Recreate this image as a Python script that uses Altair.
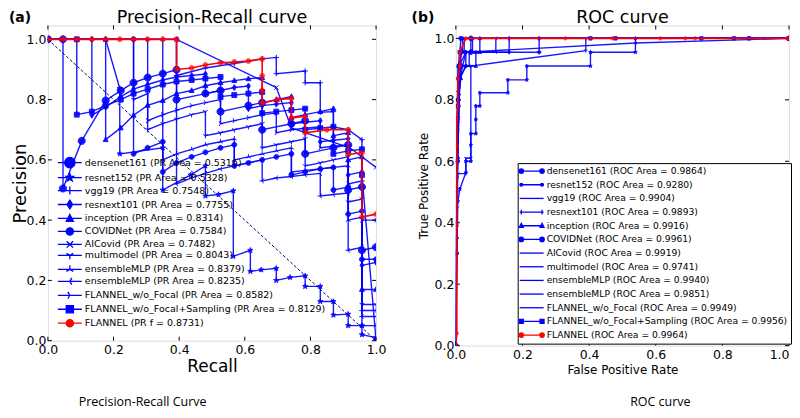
import altair as alt
import pandas as pd

BLUE = "#0000ff"
RED = "#ff0000"

# ---------------- Precision-Recall data ----------------
pr_labels = [
    "densenet161 (PR Area = 0.5316)",
    "resnet152 (PR Area = 0.5328)",
    "vgg19 (PR Area = 0.7548)",
    "resnext101 (PR Area = 0.7755)",
    "inception (PR Area = 0.8314)",
    "COVIDNet (PR Area = 0.7584)",
    "AICovid (PR Area = 0.7482)",
    "multimodel (PR Area = 0.8043)",
    "ensembleMLP (PR Area = 0.8379)",
    "ensembleMLP (PR Area = 0.8235)",
    "FLANNEL_w/o_Focal (PR Area = 0.8582)",
    "FLANNEL_w/o_Focal+Sampling (PR Area = 0.8129)",
    "FLANNEL (PR f = 0.8731)",
]

pr_densenet161_x = [0.0, 0.046, 0.046, 0.103, 0.176, 0.222, 0.261, 0.304, 0.35, 0.392, 0.392, 0.48, 0.526, 0.526, 0.611, 0.653, 0.653, 0.742, 0.784, 0.784, 0.87, 0.915, 0.915, 0.957, 0.957, 1.0]
pr_densenet161_y = [1.0, 1.0, 0.505, 0.663, 0.797, 0.83, 0.856, 0.873, 0.886, 0.899, 0.80, 0.82, 0.83, 0.76, 0.78, 0.79, 0.70, 0.72, 0.73, 0.62, 0.64, 0.65, 0.50, 0.51, 0.30, 0.31]

pr_resnet152_x = [0.0, 0.176, 0.219, 0.219, 0.35, 0.35, 0.435, 0.48, 0.48, 0.52, 0.565, 0.565, 0.617, 0.617, 0.65, 0.696, 0.696, 0.738, 0.784, 0.784, 0.83, 0.83, 0.87, 0.87, 0.915, 0.915, 0.957, 0.957, 1.0]
pr_resnet152_y = [1.0, 1.0, 0.837, 0.62, 0.64, 0.50, 0.55, 0.58, 0.48, 0.485, 0.497, 0.28, 0.30, 0.23, 0.235, 0.24, 0.20, 0.21, 0.215, 0.18, 0.18, 0.13, 0.13, 0.085, 0.088, 0.05, 0.05, 0.02, 0.01]

pr_vgg19_x = [0.0, 0.392, 0.392, 0.48, 0.568, 0.653, 0.696, 0.696, 0.784, 0.784, 0.83, 0.83, 0.87, 0.87, 0.915, 0.957, 0.957, 1.0]
pr_vgg19_y = [1.0, 1.0, 0.88, 0.905, 0.92, 0.935, 0.94, 0.886, 0.895, 0.856, 0.856, 0.758, 0.76, 0.709, 0.70, 0.667, 0.10, 0.10]

pr_resnext101_x = [0.0, 0.134, 0.134, 0.176, 0.222, 0.261, 0.304, 0.35, 0.392, 0.438, 0.48, 0.48, 0.526, 0.568, 0.611, 0.611, 0.653, 0.696, 0.742, 0.742, 0.784, 0.83, 0.83, 0.87, 0.915, 0.915, 0.957, 0.957, 1.0]
pr_resnext101_y = [1.0, 1.0, 0.748, 0.775, 0.81, 0.835, 0.85, 0.865, 0.875, 0.88, 0.885, 0.82, 0.83, 0.84, 0.845, 0.77, 0.78, 0.785, 0.79, 0.72, 0.725, 0.73, 0.66, 0.665, 0.67, 0.55, 0.56, 0.25, 0.26]

pr_inception_x = [0.0, 0.176, 0.176, 0.222, 0.261, 0.304, 0.35, 0.392, 0.438, 0.48, 0.526, 0.568, 0.611, 0.653, 0.653, 0.696, 0.742, 0.742, 0.784, 0.83, 0.87, 0.87, 0.915, 0.915, 0.957, 0.957, 1.0]
pr_inception_y = [1.0, 1.0, 0.667, 0.706, 0.748, 0.781, 0.797, 0.82, 0.83, 0.846, 0.856, 0.863, 0.869, 0.873, 0.79, 0.80, 0.81, 0.74, 0.75, 0.76, 0.77, 0.68, 0.69, 0.60, 0.61, 0.17, 0.17]

pr_covidnet_x = [0.0, 0.261, 0.261, 0.304, 0.35, 0.35, 0.392, 0.438, 0.48, 0.526, 0.568, 0.568, 0.611, 0.653, 0.696, 0.742, 0.742, 0.784, 0.83, 0.87, 0.87, 0.915, 0.915, 0.957, 0.957, 1.0]
pr_covidnet_y = [1.0, 1.0, 0.62, 0.64, 0.66, 0.56, 0.59, 0.61, 0.625, 0.64, 0.65, 0.58, 0.59, 0.60, 0.61, 0.62, 0.55, 0.56, 0.57, 0.575, 0.50, 0.51, 0.42, 0.43, 0.27, 0.27]

pr_aicovid_x = [0.0, 0.392, 0.696, 0.742, 0.92, 1.0]
pr_aicovid_y = [1.0, 1.0, 0.84, 0.706, 0.64, 0.575]

pr_multimodel_x = [0.0, 0.261, 0.261, 0.304, 0.304, 0.35, 0.392, 0.438, 0.48, 0.48, 0.526, 0.568, 0.611, 0.653, 0.653, 0.696, 0.742, 0.784, 0.784, 0.83, 0.87, 0.915, 0.915, 0.957, 0.957, 1.0]
pr_multimodel_y = [1.0, 1.0, 0.80, 0.82, 0.70, 0.72, 0.735, 0.75, 0.76, 0.68, 0.69, 0.70, 0.71, 0.72, 0.64, 0.65, 0.66, 0.67, 0.58, 0.59, 0.60, 0.61, 0.46, 0.47, 0.12, 0.12]

pr_ensemble1_x = [0.0, 0.35, 0.35, 0.392, 0.438, 0.48, 0.526, 0.568, 0.568, 0.611, 0.653, 0.696, 0.742, 0.742, 0.784, 0.83, 0.87, 0.915, 0.915, 0.957, 0.957, 1.0]
pr_ensemble1_y = [1.0, 1.0, 0.60, 0.62, 0.635, 0.65, 0.66, 0.67, 0.60, 0.61, 0.62, 0.63, 0.64, 0.56, 0.565, 0.57, 0.575, 0.58, 0.40, 0.41, 0.05, 0.05]

pr_ensemble2_x = [0.0, 0.392, 0.392, 0.438, 0.48, 0.526, 0.568, 0.611, 0.653, 0.653, 0.696, 0.742, 0.784, 0.83, 0.83, 0.87, 0.915, 0.915, 0.957, 0.957, 1.0]
pr_ensemble2_y = [1.0, 1.0, 0.52, 0.54, 0.555, 0.57, 0.58, 0.59, 0.60, 0.53, 0.54, 0.545, 0.55, 0.555, 0.48, 0.485, 0.49, 0.30, 0.31, 0.08, 0.08]

pr_wofocal_x = [0.0, 0.304, 0.304, 0.35, 0.392, 0.438, 0.48, 0.526, 0.526, 0.568, 0.611, 0.653, 0.696, 0.696, 0.742, 0.784, 0.83, 0.83, 0.87, 0.915, 0.915, 0.957, 0.957, 1.0]
pr_wofocal_y = [1.0, 1.0, 0.73, 0.75, 0.765, 0.78, 0.79, 0.80, 0.72, 0.73, 0.74, 0.75, 0.755, 0.69, 0.70, 0.705, 0.71, 0.64, 0.645, 0.65, 0.52, 0.53, 0.40, 0.40]

pr_sampling_x = [0.0, 0.088, 0.088, 0.134, 0.176, 0.222, 0.261, 0.304, 0.35, 0.392, 0.438, 0.48, 0.526, 0.526, 0.568, 0.611, 0.653, 0.653, 0.696, 0.742, 0.784, 0.784, 0.83, 0.87, 0.87, 0.915, 0.957, 0.957, 1.0]
pr_sampling_y = [1.0, 1.0, 0.75, 0.76, 0.78, 0.80, 0.82, 0.835, 0.85, 0.86, 0.865, 0.87, 0.875, 0.81, 0.815, 0.82, 0.825, 0.755, 0.76, 0.765, 0.77, 0.70, 0.705, 0.71, 0.62, 0.63, 0.635, 0.55, 0.0]

pr_flannel_x = [0.0, 0.046, 0.088, 0.134, 0.176, 0.219, 0.261, 0.304, 0.35, 0.392, 0.392, 0.438, 0.48, 0.526, 0.568, 0.611, 0.653, 0.653, 0.653, 0.653, 0.70, 0.742, 0.742, 0.784, 0.784, 0.85, 0.915, 0.915, 0.957, 0.957, 1.0]
pr_flannel_y = [1.0, 1.0, 1.0, 1.0, 1.0, 1.0, 1.0, 1.0, 1.0, 1.0, 0.90, 0.905, 0.915, 0.922, 0.925, 0.928, 0.935, 0.879, 0.83, 0.788, 0.80, 0.804, 0.739, 0.745, 0.69, 0.70, 0.70, 0.618, 0.624, 0.41, 0.42]

pr_xs = [pr_densenet161_x, pr_resnet152_x, pr_vgg19_x, pr_resnext101_x, pr_inception_x, pr_covidnet_x,
         pr_aicovid_x, pr_multimodel_x, pr_ensemble1_x, pr_ensemble2_x, pr_wofocal_x, pr_sampling_x, pr_flannel_x]
pr_ys = [pr_densenet161_y, pr_resnet152_y, pr_vgg19_y, pr_resnext101_y, pr_inception_y, pr_covidnet_y,
         pr_aicovid_y, pr_multimodel_y, pr_ensemble1_y, pr_ensemble2_y, pr_wofocal_y, pr_sampling_y, pr_flannel_y]

chance_x = [0.0, 1.0]
chance_y = [1.0, 0.0]

# ---------------- ROC data ----------------
roc_labels = [
    "densenet161 (ROC Area = 0.9864)",
    "resnet152 (ROC Area = 0.9280)",
    "vgg19 (ROC Area = 0.9904)",
    "resnext101 (ROC Area = 0.9893)",
    "inception (ROC Area = 0.9916)",
    "COVIDNet (ROC Area = 0.9961)",
    "AICovid (ROC Area = 0.9919)",
    "multimodel (ROC Area = 0.9741)",
    "ensembleMLP (ROC Area = 0.9940)",
    "ensembleMLP (ROC Area = 0.9851)",
    "FLANNEL_w/o_Focal (ROC Area = 0.9949)",
    "FLANNEL_w/o_Focal+Sampling (ROC Area = 0.9956)",
    "FLANNEL (ROC Area = 0.9964)",
]

roc_densenet161_x = [0.0, 0.0, 0.003, 0.006, 0.01, 0.015, 0.015, 0.045, 0.045, 1.0]
roc_densenet161_y = [0.0, 0.30, 0.60, 0.78, 0.87, 0.91, 0.955, 0.955, 1.0, 1.0]
roc_resnet152_x = [0.0, 0.003, 0.006, 0.012, 0.03, 0.03, 0.045, 0.045, 0.045, 0.06, 0.06, 0.06, 0.072, 0.072, 0.156, 0.156, 0.213, 0.213, 0.404, 0.404, 0.539, 0.539, 1.0]
roc_resnet152_y = [0.0, 0.30, 0.47, 0.51, 0.563, 0.60, 0.60, 0.653, 0.69, 0.69, 0.736, 0.78, 0.78, 0.823, 0.823, 0.865, 0.865, 0.91, 0.91, 0.955, 0.955, 1.0, 1.0]
roc_vgg19_x = [0.0, 0.003, 0.006, 0.01, 0.03, 0.54, 1.0]
roc_vgg19_y = [0.0, 0.50, 0.80, 0.91, 0.955, 0.985, 1.0]
roc_resnext101_x = [0.0, 0.003, 0.006, 0.012, 0.03, 0.16, 0.16, 1.0]
roc_resnext101_y = [0.0, 0.45, 0.73, 0.87, 0.955, 0.955, 1.0, 1.0]
roc_inception_x = [0.0, 0.003, 0.009, 0.015, 0.015, 0.06, 0.06, 0.072, 0.072, 1.0]
roc_inception_y = [0.0, 0.55, 0.82, 0.87, 0.91, 0.91, 0.955, 0.955, 1.0, 1.0]
roc_covidnet_x = [0.0, 0.003, 0.006, 0.009, 0.012, 0.03, 0.03, 0.25, 0.25, 1.0]
roc_covidnet_y = [0.0, 0.35, 0.61, 0.80, 0.87, 0.91, 0.955, 0.955, 1.0, 1.0]
roc_aicovid_x = [0.0, 0.003, 0.006, 0.012, 0.012, 0.05, 0.05, 1.0]
roc_aicovid_y = [0.0, 0.40, 0.70, 0.87, 0.955, 0.955, 1.0, 1.0]
roc_multimodel_x = [0.0, 0.003, 0.006, 0.03, 0.03, 0.045, 0.045, 0.39, 0.39, 1.0]
roc_multimodel_y = [0.0, 0.50, 0.56, 0.56, 0.61, 0.61, 0.91, 0.96, 1.0, 1.0]
roc_ensemble1_x = [0.0, 0.003, 0.006, 0.006, 0.02, 0.02, 1.0]
roc_ensemble1_y = [0.0, 0.60, 0.83, 0.91, 0.96, 1.0, 1.0]
roc_ensemble2_x = [0.0, 0.003, 0.009, 0.012, 0.03, 0.04, 0.04, 0.12, 0.12, 1.0]
roc_ensemble2_y = [0.0, 0.52, 0.74, 0.87, 0.91, 0.91, 0.955, 0.955, 1.0, 1.0]
roc_wofocal_x = [0.0, 0.003, 0.006, 0.01, 0.01, 0.025, 0.025, 1.0]
roc_wofocal_y = [0.0, 0.70, 0.87, 0.91, 0.955, 0.955, 1.0, 1.0]
roc_sampling_x = [0.0, 0.003, 0.006, 0.009, 0.012, 0.015, 0.404, 0.479, 0.737, 0.835, 0.88, 1.0]
roc_sampling_y = [0.0, 0.60, 0.80, 0.91, 0.955, 1.0, 1.0, 1.0, 1.0, 1.0, 1.0, 1.0]
roc_flannel_x = [0.0, 0.003, 0.003, 0.003, 0.003, 0.006, 0.006, 0.012, 0.012, 0.03, 0.329, 0.47, 0.614, 0.689, 0.718, 0.994, 1.0]
roc_flannel_y = [0.0, 0.04, 0.39, 0.65, 0.736, 0.78, 0.868, 0.91, 0.955, 1.0, 1.0, 1.0, 1.0, 1.0, 1.0, 1.0, 1.0]

roc_xs = [roc_densenet161_x, roc_resnet152_x, roc_vgg19_x, roc_resnext101_x, roc_inception_x, roc_covidnet_x,
          roc_aicovid_x, roc_multimodel_x, roc_ensemble1_x, roc_ensemble2_x, roc_wofocal_x, roc_sampling_x, roc_flannel_x]
roc_ys = [roc_densenet161_y, roc_resnet152_y, roc_vgg19_y, roc_resnext101_y, roc_inception_y, roc_covidnet_y,
          roc_aicovid_y, roc_multimodel_y, roc_ensemble1_y, roc_ensemble2_y, roc_wofocal_y, roc_sampling_y, roc_flannel_y]

tick_values = [0.0, 0.2, 0.4, 0.6, 0.8, 1.0]

# ---------------- marker shapes (style) ----------------
def circ(cx, r):
    return f"M{cx + r},0A{r},{r} 0 1,1 {cx - r},0A{r},{r} 0 1,1 {cx + r},0Z"

MARKERS = [
    circ(0, 1.3),
    "M0,-1L0.235,-0.324L0.951,-0.309L0.38,0.124L0.588,0.809L0,0.4L-0.588,0.809L-0.38,0.124L-0.951,-0.309L-0.235,-0.324Z",
    "M-1,0H1M0,-1V1",
    "M0,-1.1L0.7,0L0,1.1L-0.7,0Z",
    "M0,-1L0.9,0.7L-0.9,0.7Z",
    circ(0, 0.9),
    "M-0.8,-0.8L0.8,0.8M-0.8,0.8L0.8,-0.8",
    "M0,0V1M0,0L-0.87,-0.5M0,0L0.87,-0.5",
    "M0,0V-1M0,0L-0.87,0.5M0,0L0.87,0.5",
    "M0,0H-1M0,0L0.5,-0.87M0,0L0.5,0.87",
    "M0,0H1M0,0L-0.5,-0.87M0,0L-0.5,0.87",
    "M-0.9,-0.9H0.9V0.9H-0.9Z",
    circ(0, 0.9),
]

PR_LEGEND = ["M-3,0H3" + m for m in MARKERS]


def ends(kind):
    if kind == "circle":
        return circ(-2.6, 0.55) + circ(2.6, 0.55)
    if kind == "square":
        return "M-3.1,-0.5H-2.1V0.5H-3.1ZM2.1,-0.5H3.1V0.5H2.1Z"
    if kind == "plus":
        return "M-2.6,-0.6V0.6M2.6,-0.6V0.6"
    if kind == "tri":
        return "M-2.6,-0.6L-2.1,0.4L-3.1,0.4ZM2.6,-0.6L3.1,0.4L2.1,0.4Z"
    if kind == "star":
        return circ(-2.6, 0.35) + circ(2.6, 0.35)
    return ""


ROC_KINDS = ["circle", "star", "", "plus", "tri", "circle", "", "", "", "", "", "square", "circle"]
ROC_LEGEND = ["M-3,0H3" + ends(k) for k in ROC_KINDS]


def build(labels, xs, ys):
    rows = []
    for lab, xl, yl in zip(labels, xs, ys):
        for i, (a, b) in enumerate(zip(xl, yl)):
            rows.append({"series": lab, "i": i, "x": a, "y": b})
    return pd.DataFrame(rows)


def text_layer(txt, x, y, size, weight="normal", font="DejaVu Sans"):
    return alt.Chart(pd.DataFrame({"t": [txt]})).mark_text(
        fontSize=size, fontWeight=weight, font=font, align="center", baseline="middle", color="black"
    ).encode(text="t:N", x=alt.value(x), y=alt.value(y))


def tick_layers(width, height):
    xs = alt.Chart(pd.DataFrame({"x": tick_values})).mark_rule(color="black", strokeWidth=1)
    ys = alt.Chart(pd.DataFrame({"y": tick_values})).mark_rule(color="black", strokeWidth=1)
    return [
        xs.encode(x="x:Q", y=alt.value(height), y2=alt.value(height - 4)),
        xs.encode(x="x:Q", y=alt.value(0), y2=alt.value(4)),
        ys.encode(y="y:Q", x=alt.value(0), x2=alt.value(4)),
        ys.encode(y="y:Q", x=alt.value(width), x2=alt.value(width - 4)),
    ]


def panel(labels, xs, ys, legend_paths, point_size, ymax, width, height,
          xtitle, ytitle, xtitle_size, ytitle_size, ytitle_x, xtitle_pad, legend_font, legend_props,
          extra_layers, last_label_right=False):
    df = build(labels, xs, ys)
    colors = [BLUE] * (len(labels) - 1) + [RED]
    red_name = labels[-1]
    color_scale = alt.Scale(domain=labels, range=colors)
    shape_scale = alt.Scale(domain=labels, range=MARKERS)
    legend_shape_scale = alt.Scale(domain=labels, range=legend_paths)

    xaxis_kw = dict(values=tick_values, format=".1f", title=xtitle, grid=False, domain=False,
                    ticks=False, labelPadding=3, labelFontSize=12.5, titleFontSize=xtitle_size,
                    titleFontWeight="normal", titlePadding=xtitle_pad, labelColor="black",
                    titleColor="black", labelFlush=False)
    if last_label_right:
        xaxis_kw["labelAlign"] = alt.ExprRef(expr="datum.value >= 1 ? 'right' : 'center'")
    xenc = alt.X("x:Q", scale=alt.Scale(domain=[0, 1], nice=False, zero=False), axis=alt.Axis(**xaxis_kw))
    yenc = alt.Y("y:Q", scale=alt.Scale(domain=[0, ymax], nice=False, zero=False),
                 axis=alt.Axis(values=tick_values, format=".1f", title=ytitle, grid=False, domain=False,
                               ticks=False, labelPadding=2, labelFontSize=12.5, titleFontSize=ytitle_size,
                               titleFontWeight="normal", titleX=ytitle_x, titleBaseline="alphabetic",
                               labelColor="black", titleColor="black", labelFlush=False))

    legend = alt.Legend(title=None, orient="none", labelFontSize=legend_font, labelColor="black",
                        symbolSize=64, symbolStrokeWidth=1.3, symbolOpacity=1, labelLimit=400,
                        **legend_props)

    base = alt.Chart(df)
    blue = base.transform_filter(alt.datum.series != red_name)
    red = base.transform_filter(alt.datum.series == red_name)

    lines_blue = blue.mark_line(strokeWidth=1.4, clip=True, opacity=0.9).encode(
        x=xenc, y=yenc, order="i:Q",
        color=alt.Color("series:N", scale=color_scale, legend=None))
    pts_blue = blue.mark_point(filled=True, size=point_size, strokeWidth=1, clip=True, opacity=0.9).encode(
        x="x:Q", y="y:Q",
        shape=alt.Shape("series:N", scale=shape_scale, legend=None),
        fill=alt.Fill("series:N", scale=color_scale, legend=None),
        stroke=alt.Stroke("series:N", scale=color_scale, legend=None))
    lines_red = red.mark_line(strokeWidth=1.6, clip=True).encode(
        x="x:Q", y="y:Q", order="i:Q", color=alt.Color("series:N", scale=color_scale, legend=None))
    pts_red = red.mark_point(filled=True, size=point_size, strokeWidth=1, clip=True).encode(
        x="x:Q", y="y:Q",
        shape=alt.Shape("series:N", scale=shape_scale, legend=None),
        fill=alt.Fill("series:N", scale=color_scale, legend=None),
        stroke=alt.Stroke("series:N", scale=color_scale, legend=None))
    legend_layer = base.transform_filter("false").mark_point(filled=True, strokeWidth=1.3).encode(
        x="x:Q", y="y:Q",
        shape=alt.Shape("series:N", scale=legend_shape_scale, legend=legend),
        fill=alt.Fill("series:N", scale=color_scale, legend=legend),
        stroke=alt.Stroke("series:N", scale=color_scale, legend=legend))

    layers = [lines_blue] + extra_layers + tick_layers(width, height) + [pts_blue, lines_red, pts_red, legend_layer]
    return alt.layer(*layers).resolve_scale(
        shape="independent", fill="independent", stroke="independent", color="independent"
    ).properties(width=width, height=height)


chance = alt.Chart(pd.DataFrame({"x": chance_x, "y": chance_y})).mark_line(
    color="#000080", strokeDash=[3, 2], strokeWidth=1, clip=True).encode(x="x:Q", y="y:Q")

L_W, L_H = 329, 316
R_W, R_H = 334, 321

left = panel(
    pr_labels, pr_xs, pr_ys, PR_LEGEND, 30, 1.046, L_W, L_H,
    "Recall", "Precision", 17, 18, -22, 2, 9.5,
    dict(legendX=17, legendY=132.5, rowPadding=0, labelOffset=10, padding=0),
    [chance,
     text_layer("Precision-Recall curve", L_W / 2, -7, 17.5),
     text_layer("(a)", -28, -7, 14, "bold"),
     text_layer("Precision-Recall Curve", 95, L_H + 62, 12.5, font="Open Sans")])

right = panel(
    roc_labels, roc_xs, roc_ys, ROC_LEGEND, 14, 1.042, R_W, R_H,
    "False Positive Rate", "True Positive Rate", 12, 12, -28, 3, 9.2,
    dict(legendX=62, legendY=138, rowPadding=2.7, labelOffset=10, padding=3, symbolOffset=6,
         strokeColor="black", fillColor="white", cornerRadius=0),
    [text_layer("ROC curve", R_W / 2, -7, 17.5),
     text_layer("(b)", -33, -7, 14, "bold"),
     text_layer("ROC curve", 205, R_H + 57, 12.5, font="Open Sans")],
    last_label_right=True)

chart = alt.hconcat(left, right, spacing=24).resolve_scale(
    color="independent", shape="independent", fill="independent", stroke="independent"
).properties(padding=0).configure_view(
    stroke="black", strokeWidth=1
).configure(font="DejaVu Sans", background="white")

chart.save("out.html", embed_options={"renderer": "svg", "actions": False})
